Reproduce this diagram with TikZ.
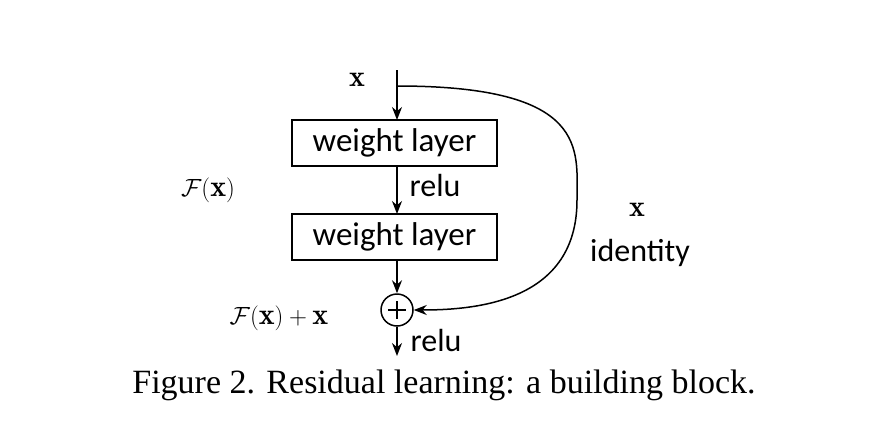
\documentclass[tikz,border=0pt]{standalone}
\usepackage{fontspec}
\newfontfamily\carl{Carlito}
\newfontfamily\tms{Liberation Serif}
\usetikzlibrary{arrows.meta}
\begin{document}
\begin{tikzpicture}[x=1pt,y=-1pt,
  box/.style={draw,line width=1.5pt,minimum width=205pt,minimum height=46pt,inner sep=0pt,font=\carl\fontsize{33}{36}\selectfont},
  lab/.style={font=\carl\fontsize{32}{36}\selectfont},
  mth/.style={font=\fontsize{30}{34}\selectfont},
  arr/.style={line width=1.5pt,-{Stealth[length=13pt,width=10pt]}}]
\useasboundingbox (0,0) rectangle (889,426);
\node[mth] (x) at (357,80) {$\mathbf{x}$};
\coordinate (top) at (397,70);
\coordinate (br) at (397,86);
\node[box] (b1) at (394.5,143) {weight layer};
\node[box] (b2) at (394.5,237) {weight layer};
\node[draw,circle,line width=1.5pt,minimum size=32pt,inner sep=0pt] (p) at (397,310) {};
\draw[line width=1.5pt] (388,310)--(406,310) (397,301)--(397,319);
\coordinate (out) at (397,356);
\draw[arr] (top) -- (397,120);
\draw[arr] (397,166) -- (397,214);
\draw[arr] (397,260) -- (p.north);
\draw[arr] (p.south) -- (out);
\draw[arr] (br) .. controls (590,86) and (577,150) .. (577,200) .. controls (577,300) and (480,310) .. (p.east);
\node[lab] (r1) at (435,186) {relu};
\node[lab] (r2) at (436,341) {relu};
\node[mth] (f) at (208,190) {$\mathcal{F}(\mathbf{x})$};
\node[mth] (fx) at (279,318) {$\mathcal{F}(\mathbf{x})+\mathbf{x}$};
\node[mth] (x2) at (637,210) {$\mathbf{x}$};
\node[lab] (id) at (640,253) {identity};
\node[font=\tms\fontsize{34}{38}\selectfont] (cap) at (444,385) {Figure 2. Residual learning: a building block.};
\end{tikzpicture}
\end{document}
